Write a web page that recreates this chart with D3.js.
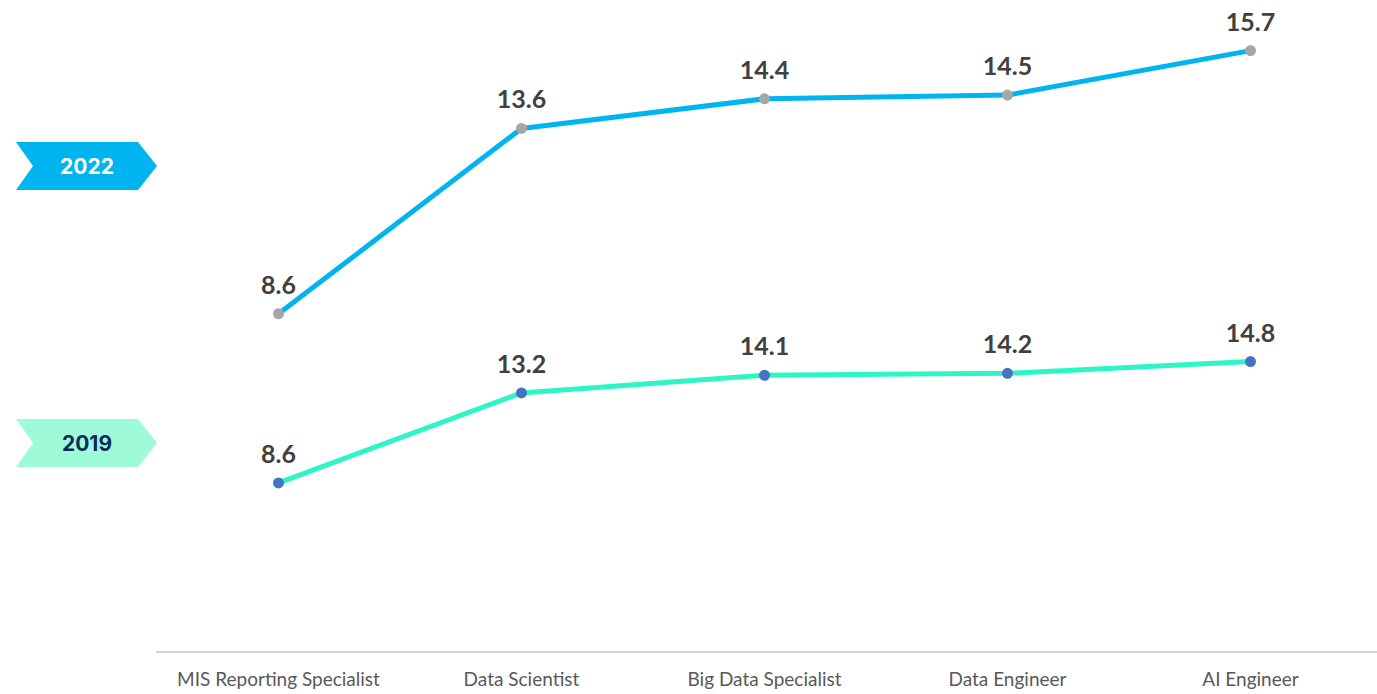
<!DOCTYPE html>
<html><head><meta charset="utf-8">
<script src="https://cdn.jsdelivr.net/npm/d3@7"></script>
<style>body{margin:0;background:#fff;}svg{display:block;}</style>
</head><body>
<svg id="c" width="1377" height="694"></svg>
<script>
const categories = ["MIS Reporting Specialist","Data Scientist","Big Data Specialist","Data Engineer","AI Engineer"];
const values2022 = [8.6, 13.6, 14.4, 14.5, 15.7];
const values2019 = [8.6, 13.2, 14.1, 14.2, 14.8];
const seriesNames = ["2022","2019"];

const svg = d3.select("#c");
const x = d3.scaleBand().domain(categories).range([157, 1372]);
const cx = d => x(d) + x.bandwidth()/2;
const y22 = d3.scaleLinear().domain([8,16]).range([336, 39.5]);
const y19 = d3.scaleLinear().domain([8,16]).range([494.7, 338.1]);

// axis
const ax = svg.append("g").attr("transform","translate(0,652)").call(d3.axisBottom(x).tickSize(0).tickPadding(0));
ax.select(".domain").attr("stroke","#c0c0c0").attr("stroke-width",1.5).attr("d","M156,0H1377");
ax.selectAll("text").attr("dy",0).attr("y",34).attr("fill","#595959")
  .style("font-family","Lato, 'Open Sans', sans-serif").style("font-size","19px");

function banner(yTop, fill, textFill, label){
  const g = svg.append("g");
  const h = 48, l = 16, r = 157, notch = 17, tip = 19;
  g.append("path").attr("d",`M${l},${yTop}H${r-tip}L${r},${yTop+h/2}L${r-tip},${yTop+h}H${l}L${l+notch},${yTop+h/2}Z`).attr("fill",fill);
  g.append("text").attr("x",87).attr("y",yTop+h/2+8).attr("text-anchor","middle")
    .attr("fill",textFill).style("font-family","Inter, 'Open Sans', sans-serif").style("font-weight","700").style("font-size","21px").text(label);
}
banner(142, "#00b4f0", "#ffffff", seriesNames[0]);
banner(419, "#9ffbd7", "#0b2c5c", seriesNames[1]);

function series(vals, y, lineColor, dotColor){
  const data = categories.map((c,i)=>({c, v: vals[i]}));
  svg.append("path").datum(data).attr("fill","none").attr("stroke",lineColor).attr("stroke-width",5)
    .attr("stroke-linejoin","round").attr("d", d3.line().x(d=>cx(d.c)).y(d=>y(d.v)));
  svg.selectAll(null).data(data).enter().append("circle").attr("cx",d=>cx(d.c)).attr("cy",d=>y(d.v)).attr("r",5.5).attr("fill",dotColor);
  svg.selectAll(null).data(data).enter().append("text").attr("x",d=>cx(d.c)).attr("y",d=>y(d.v)-20)
    .attr("text-anchor","middle").attr("fill","#404040").style("font-family","Lato, 'Open Sans', sans-serif")
    .style("font-weight","700").style("font-size","25px").text(d=>d.v.toFixed(1));
}
series(values2022, y22, "#00b4f0", "#a6a6a6");
series(values2019, y19, "#2cf5c6", "#4472c4");
</script>
</body></html>
